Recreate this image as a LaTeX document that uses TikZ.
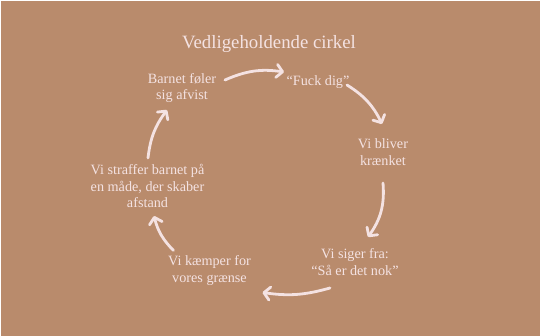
\documentclass[tikz,border=0pt]{standalone}
\usepackage{fontspec}
\setmainfont{Liberation Serif}
\usetikzlibrary{arrows.meta, positioning}
\definecolor{bgbrown}{HTML}{B98B6C}
\definecolor{paleink}{HTML}{F4E2E2}
\tikzset{
    cyc/.style={
        draw=paleink, line width=2.8pt, line cap=round,
        -{Straight Barb[round, length=6pt, width=13pt]}
    },
    stage/.style={
        text=paleink, align=center, inner sep=1pt,
        font=\fontsize{14.2}{16.5}\selectfont
    },
    headline/.style={
        text=paleink, inner sep=1pt,
        font=\fontsize{18.8}{22}\selectfont
    }
}

\begin{document}
\begin{tikzpicture}[x=1pt, y=1pt]
    \useasboundingbox (0,0) rectangle (541,336);
    \fill[white] (0,0) rectangle (541,336);
    \fill[bgbrown] (1,0) rectangle (540,335);
    % the six stages of the cycle
    \node[headline] (title) at (269,292) {Vedligeholdende cirkel};
    \node[stage] (barn) at (182,248) {Barnet føler\\sig afvist};
    \node[stage] (fuck) at (318,254) {“Fuck dig”};
    \node[stage] (bliver) at (383,184) {Vi bliver\\krænket};
    \node[stage] (siger) at (355,74) {Vi siger fra:\\“Så er det nok”};
    \node[stage] (kaemper) at (209.5,65.5) {Vi kæmper for\\vores grænse};
    \node[stage] (straf) at (147.5,150) {Vi straffer barnet på\\en måde, der skaber\\afstand};
    % arrows round the circle
    \draw[cyc] ([shift={(43,8)}]barn.center) to[bend left=16] ([shift={(-34,10)}]fuck.center);
    \draw[cyc] ([shift={(29,-3)}]fuck.center) to[bend left=16] ([shift={(-1,28)}]bliver.center);
    \draw[cyc] ([shift={(0,-31)}]bliver.center) to[bend left=20] ([shift={(13,25)}]siger.center);
    \draw[cyc] ([shift={(-25,-26)}]siger.center) to[bend left=12] ([shift={(53,-22)}]kaemper.center);
    \draw[cyc] ([shift={(-36,20)}]kaemper.center) to[bend left=15] ([shift={(6.5,-30)}]straf.center);
    \draw[cyc] ([shift={(0.5,28)}]straf.center) to[bend left=15] ([shift={(-15,-22)}]barn.center);
\end{tikzpicture}
\end{document}
